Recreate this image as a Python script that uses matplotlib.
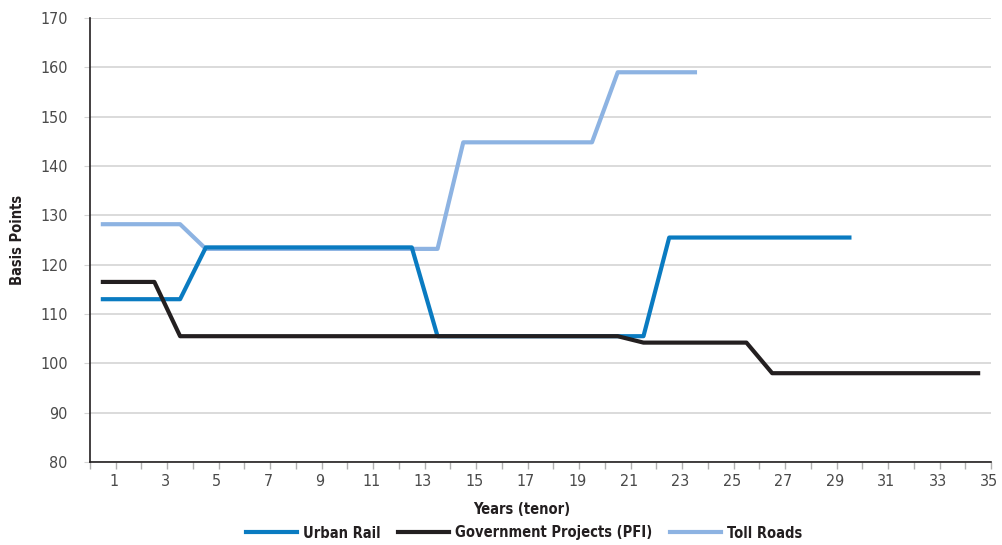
import matplotlib
matplotlib.use("Agg")
import matplotlib.pyplot as plt
import matplotlib.transforms as mtransforms
import numpy as np

plt.rcParams['font.family'] = ['DejaVu Sans']
plt.rcParams['font.stretch'] = 'condensed'

# spreads by tenor (years), in basis points
urban_rail = [113, 113, 113, 113, 123.5, 123.5, 123.5, 123.5, 123.5, 123.5,
              123.5, 123.5, 123.5, 105.5, 105.5, 105.5, 105.5, 105.5, 105.5, 105.5,
              105.5, 105.5, 125.5, 125.5, 125.5, 125.5, 125.5, 125.5, 125.5, 125.5]
gov_pfi = [116.5, 116.5, 116.5, 105.5, 105.5, 105.5, 105.5, 105.5, 105.5, 105.5,
           105.5, 105.5, 105.5, 105.5, 105.5, 105.5, 105.5, 105.5, 105.5, 105.5,
           105.5, 104.2, 104.2, 104.2, 104.2, 104.2, 98, 98, 98, 98,
           98, 98, 98, 98, 98]
toll_roads = [128.2, 128.2, 128.2, 128.2, 123.2, 123.2, 123.2, 123.2, 123.2, 123.2,
              123.2, 123.2, 123.2, 123.2, 144.8, 144.8, 144.8, 144.8, 144.8, 144.8,
              159, 159, 159, 159]
year_labels = list(range(1, 36, 2))

fig = plt.figure(figsize=(10.02, 5.45), dpi=100)
ax = fig.add_axes([90/1002, 1-462/545, 901/1002, 444/545])

ax.plot(np.arange(1, len(toll_roads)+1), toll_roads, color='#8db3e2', lw=3, label='Toll Roads', zorder=3)
ax.plot(np.arange(1, len(urban_rail)+1), urban_rail, color='#0a7bc1', lw=3, label='Urban Rail', zorder=4)
ax.plot(np.arange(1, len(gov_pfi)+1), gov_pfi, color='#231f20', lw=3, label='Government Projects (PFI)', zorder=5)

ax.set_ylim(80, 170)
ax.set_yticks(np.arange(80, 171, 10))
ax.set_xlim(0.5, 35.5)
ax.grid(axis='y', color='#d4d4d4', lw=1.2)
ax.set_axisbelow(True)
for s in ['top', 'right']:
    ax.spines[s].set_visible(False)
for s in ['left', 'bottom']:
    ax.spines[s].set_color('#231f20')
    ax.spines[s].set_linewidth(1.2)

# category boundaries as tick marks, labels on odd years
ax.set_xticks(np.arange(0.5, 36, 1))
ax.set_xticklabels([])
ax.tick_params(axis='x', which='major', length=5, color='#b0b0b0', width=1)
ax.set_xticks(year_labels, minor=True)
ax.set_xticklabels([str(y) for y in year_labels], minor=True)
ax.tick_params(axis='x', which='minor', length=0, pad=9, labelsize=11.5, labelcolor='#4a4a4a')
shift = mtransforms.ScaledTranslation(11/100, 0, fig.dpi_scale_trans)
for lab in ax.xaxis.get_minorticklabels():
    lab.set_transform(lab.get_transform() + shift)
ax.tick_params(axis='y', length=4, color='#d4d4d4', pad=12, labelsize=11.5, labelcolor='#4a4a4a')

ax.set_ylabel('Basis Points', fontsize=10.5, fontweight='bold', color='#231f20', labelpad=11)
fig.text(522/1002, 1-509/545, 'Years (tenor)', ha='center', va='center',
         fontsize=10.5, fontweight='bold', color='#231f20')

h, l = ax.get_legend_handles_labels()
order = [1, 2, 0]
fig.legend([h[i] for i in order], [l[i] for i in order], loc='center',
           bbox_to_anchor=(524/1002, 1-533/545), ncol=3, frameon=False,
           handlelength=3.5, handletextpad=0.4, columnspacing=1.2,
           prop={'size': 10.5, 'weight': 'bold'}, labelcolor='#231f20')

fig.savefig('out.png', dpi=100)
